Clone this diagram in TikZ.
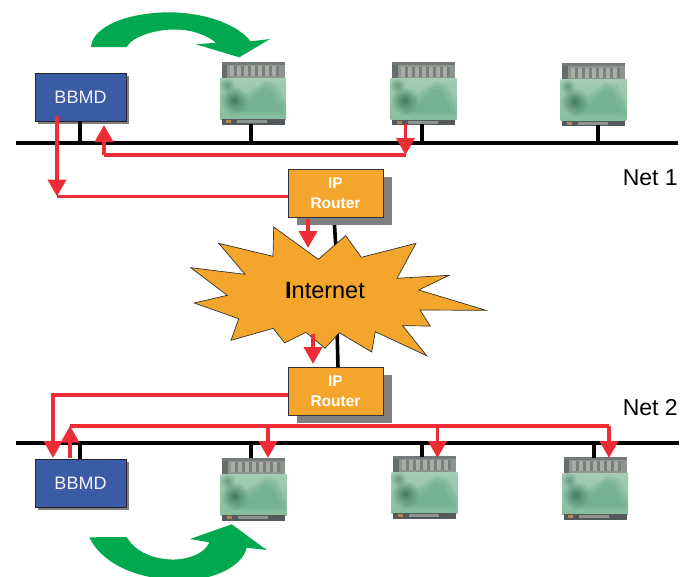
\documentclass[tikz,border=0pt]{standalone}
\usepackage{fontspec}
\setmainfont{Liberation Sans}
\usetikzlibrary{arrows.meta,shadows,fadings}
\definecolor{netred}{HTML}{EE2C35}
\definecolor{boxblue}{HTML}{3A5BA5}
\definecolor{boxorange}{HTML}{F4A62C}
\definecolor{hopgreen}{HTML}{00A84F}
\definecolor{shadowgray}{HTML}{808080}
\definecolor{bandgray}{HTML}{8E9490}
\definecolor{bandlight}{HTML}{A8ADA6}
\definecolor{banddark}{HTML}{55595C}
\definecolor{greenlight}{HTML}{A4CDB3}
\definecolor{greenmid}{HTML}{86BE9D}
\definecolor{greendeep}{HTML}{6FAE8D}
\definecolor{greendark}{HTML}{3F7A5E}
\tikzfading[name=softdot,inner color=transparent!0,outer color=transparent!100]
\newcommand{\devicebody}{%
  \begin{scope}[shift={(path picture bounding box.center)}]
    \fill[bandgray] (-31.5,-31.5) rectangle (31.5,-15);
    \fill[banddark!70!bandgray] (-31.5,-31.5) rectangle (-26,-15);
    \fill[banddark!45!bandgray] (-31.5,-31.5) rectangle (31.5,-28.5);
    \foreach \bx in {-23,-16,-9,-2,5,12,19}{
      \fill[bandlight] (\bx,-27) rectangle ++(4,10);
      \fill[banddark!35!bandgray] (\bx+4,-27) rectangle ++(3,10);
    }
    \shade[top color=greenlight,bottom color=greenmid] (-33,-15) rectangle (33,26);
    \fill[greendeep,opacity=.3] (-24,22) -- (-8,2) -- (12,-12) -- (24,-9) -- (33,12) -- (33,22) -- cycle;
    \fill[greendeep,opacity=.4] (-20,20) -- (-6,5) -- (12,-9) -- (21,-6) -- (31,13) -- (31,20) -- cycle;
    \fill[greendeep,opacity=.5] (-14,18) -- (-3,8) -- (11,-5) -- (18,-3) -- (27,14) -- (27,18) -- cycle;
    \fill[greendark,path fading=softdot] (-19,7) circle (14);
    \fill[greendark,path fading=softdot,opacity=.6] (-26,-8) circle (8);
    \fill[banddark] (-31.5,26) rectangle (31.5,31.5);
    \fill[bandgray] (-16,27) rectangle (14,30);
    \fill[brown!70!bandgray] (-27,27) rectangle (-22,30);
  \end{scope}}
\tikzset{
  every node/.style={font=\fontsize{18}{20}\selectfont},
  device/.style={minimum width=66pt,minimum height=63pt,inner sep=0pt,path picture={\devicebody}},
  bbmdbox/.style={draw=black!85,line width=.9pt,fill=boxblue,text=blue!5!white,minimum width=91pt,minimum height=48pt,inner sep=0pt,
    general shadow={fill=shadowgray,shadow xshift=3pt,shadow yshift=-3pt}},
  routerbox/.style={draw=black!80,line width=.8pt,fill=boxorange,text=white,minimum width=95pt,minimum height=48pt,inner sep=0pt,
    align=center,font=\fontsize{15.5}{20}\selectfont\bfseries,
    general shadow={fill=shadowgray,shadow xshift=9pt,shadow yshift=-7.5pt}},
  bus/.style={line width=3.6pt,black},
  stub/.style={line width=3.6pt,black},
  redline/.style={line width=3.8pt,netred,line join=miter},
  redarrow/.style={redline,-{Triangle[length=17pt,width=18pt]}},
  hop/.style={fill=hopgreen},
  burst/.style={draw=black!80,line width=.7pt,fill=boxorange,line join=miter},
  netlabel/.style={font=\fontsize{23}{26}\selectfont,anchor=east,inner sep=0pt},
}
\begin{document}
\begin{tikzpicture}[x=1pt,y=-1pt]
\useasboundingbox (0,0) rectangle (680,576);
\clip (0,0) rectangle (680,576);

% hop arrows
\fill[hop] (91,47) -- (126.7,47) .. controls (133,33) and (185,18) .. (216,42.7) -- (196,44.3) -- (239.3,57.3) -- (270,39) -- (250.7,41.3)
  .. controls (235,22) and (200,12) .. (166.7,12.3) .. controls (130,13) and (93,25) .. (91,47) -- cycle;
\fill[hop] (89.3,537.3) -- (126.7,537) .. controls (135,552) and (155,560) .. (175,559.5) .. controls (190,559) and (205,553) .. (209.3,542.3)
  -- (190,539) -- (231.7,524.3) -- (266.7,550) -- (246.7,547.7)
  .. controls (243,565) and (215,582) .. (175,580) .. controls (130,578) and (100,560) .. (89.3,537.3) -- cycle;

% buses
\coordinate (bus1w) at (16,143);
\coordinate (bus1e) at (678,143);
\coordinate (bus2w) at (16,443);
\coordinate (bus2e) at (679,443);
\draw[bus] (bus1w) -- (bus1e);
\draw[bus] (bus2w) -- (bus2e);

% devices
\node[bbmdbox] (bbmdA) at (80.5,97) {BBMD};
\node[device] (devA1) at (253,93) {};
\node[device] (devA2) at (423.5,93.5) {};
\node[device] (devA3) at (593.5,94.5) {};
\node[bbmdbox] (bbmdB) at (80.5,483) {BBMD};
\node[device] (devB1) at (253.5,489) {};
\node[device] (devB2) at (424.5,487) {};
\node[device] (devB3) at (595,488) {};

% stubs
\coordinate (sA0) at (80,143); \coordinate (sA0t) at (80,121);
\coordinate (sA1) at (251,143); \coordinate (sA1t) at (251,124);
\coordinate (sA2) at (422,143); \coordinate (sA2t) at (422,124);
\coordinate (sA3) at (598,143); \coordinate (sA3t) at (598,125);
\coordinate (sB0) at (80,443); \coordinate (sB0t) at (80,459);
\coordinate (sB1) at (251,443); \coordinate (sB1t) at (251,458);
\coordinate (sB2) at (422,443); \coordinate (sB2t) at (422,457);
\coordinate (sB3) at (594,443); \coordinate (sB3t) at (594,458);
\foreach \sa/\sb in {sA0/sA0t,sA1/sA1t,sA2/sA2t,sA3/sA3t,sB0/sB0t,sB1/sB1t,sB2/sB2t,sB3/sB3t}
  \draw[stub] (\sa) -- (\sb);

% router links and cloud
\coordinate (linkAr) at (334,217);
\coordinate (linkAc) at (336,250);
\coordinate (linkBr) at (338,367);
\coordinate (linkBc) at (337,328);
\draw[stub] (linkAr) -- (linkAc);
\draw[stub] (linkBc) -- (linkBr);
\draw[burst] (273.7,227) -- (318.3,259.3) -- (345.7,235.7) -- (361.3,257.3) -- (416,243.3) -- (397,278.3) -- (449,275.3) -- (418.7,290)
  -- (486,310.3) -- (420,310) -- (430.3,326) -- (402.7,325.7) -- (426.7,355.7) -- (375.3,331.7) -- (371.7,352) -- (339.3,332.7)
  -- (325,348.3) -- (306,332.3) -- (284.7,343) -- (273.3,328.3) -- (231,340.3) -- (238.7,318.7) -- (194.3,303) -- (227.3,295.3)
  -- (190.7,267.7) -- (245,274.3) -- (218.7,243.3) -- (273,256.3) -- cycle;
\node[font=\fontsize{23.5}{26}\selectfont,inner sep=0pt] (inet) at (325,291) {{\bfseries I}nternet};

% routers
\node[routerbox] (routerA) at (335.5,193) {\raisebox{-1.5pt}{IP}\\\raisebox{-1.5pt}{Router}};
\node[routerbox] (routerB) at (335.5,391) {\raisebox{-1.5pt}{IP}\\\raisebox{-1.5pt}{Router}};

% red paths, top
\coordinate (rA0) at (57,116);
\coordinate (rA1) at (57,196.5);
\coordinate (rA2) at (288,196.5);
\draw[redline] (rA1) -- (rA2);
\draw[redarrow] (rA0) -- (rA1);
\coordinate (rA3) at (405.5,124);
\coordinate (rA4) at (405.5,155);
\coordinate (rA5) at (104,155);
\coordinate (rA6) at (104,125);
\draw[redline] (rA4) -- (rA5);
\draw[redarrow] (rA3) -- (rA4);
\draw[redarrow] (rA5) -- (rA6);
\coordinate (rC0) at (308,219);
\coordinate (rC1) at (308,248);
\draw[redarrow] (rC0) -- (rC1);
\coordinate (rC2) at (313,334);
\coordinate (rC3) at (313,364);
\draw[redarrow] (rC2) -- (rC3);

% red paths, bottom
\coordinate (rB0) at (288,395);
\coordinate (rB1) at (53,395);
\coordinate (rB2) at (53,458);
\draw[redarrow] (rB0) -- (rB1) -- (rB2);
\coordinate (rD0) at (70,458);
\coordinate (rD1) at (70,425.7);
\coordinate (rD2) at (609,425.7);
\coordinate (rD3) at (609,458);
\coordinate (rE0) at (268,425.7);
\coordinate (rE1) at (268,458);
\coordinate (rF0) at (437.5,425.7);
\coordinate (rF1) at (437.5,458);
\draw[redline] (rD1) -- (rD2);
\draw[redarrow] (rD0) -- (rD1);
\draw[redarrow] (rD2) -- (rD3);
\draw[redarrow] (rE0) -- (rE1);
\draw[redarrow] (rF0) -- (rF1);

% labels
\node[netlabel] (netA) at (678,178) {Net 1};
\node[netlabel] (netB) at (678,408) {Net 2};
\end{tikzpicture}
\end{document}
